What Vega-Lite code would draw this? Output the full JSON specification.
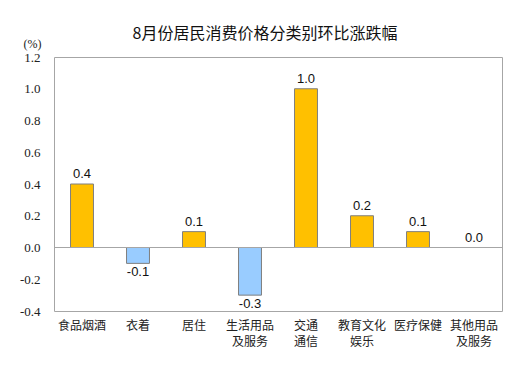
{
  "$schema": "https://vega.github.io/schema/vega-lite/v6.json",
  "autosize": "none",
  "width": 448,
  "height": 254,
  "padding": {"left": 54, "top": 57, "right": 22, "bottom": 68},
  "background": "white",
  "title": {
    "text": "8月份居民消费价格分类别环比涨跌幅",
    "font": "Noto Sans CJK SC",
    "fontSize": 16,
    "fontWeight": "normal",
    "color": "#111111",
    "anchor": "middle",
    "frame": "group",
    "baseline": "bottom",
    "offset": -21,
    "dx": -13
  },
  "config": {
    "locale": {
      "number": {"decimal": ".", "thousands": ",", "grouping": [3], "currency": ["", ""], "minus": "-"}
    },
    "view": {"stroke": "#A6A6A6", "strokeWidth": 1}
  },
  "data": {
    "values": [
      {"category": "食品烟酒", "value": 0.4},
      {"category": "衣着", "value": -0.1},
      {"category": "居住", "value": 0.1},
      {"category": "生活用品\n及服务", "value": -0.3},
      {"category": "交通\n通信", "value": 1.0},
      {"category": "教育文化\n娱乐", "value": 0.2},
      {"category": "医疗保健", "value": 0.1},
      {"category": "其他用品\n及服务", "value": 0.0}
    ]
  },
  "encoding": {
    "x": {
      "field": "category",
      "type": "nominal",
      "sort": null,
      "scale": {"paddingInner": 0.59, "paddingOuter": 0.295},
      "axis": {
        "title": null,
        "labelAngle": 0,
        "labelExpr": "split(datum.label, '\\n')",
        "labelFont": "Noto Sans CJK SC",
        "labelFontSize": 12,
        "labelColor": "#222222",
        "labelLineHeight": 16,
        "labelPadding": 9,
        "ticks": false,
        "domain": false
      }
    },
    "y": {
      "field": "value",
      "type": "quantitative",
      "scale": {"domain": [-0.4, 1.2], "nice": false, "zero": false},
      "axis": {
        "title": "(%)",
        "titleAngle": 0,
        "titleX": -22,
        "titleY": -14,
        "titleAlign": "center",
        "titleBaseline": "middle",
        "titleFont": "Liberation Serif",
        "titleFontSize": 12,
        "titleFontWeight": "normal",
        "titleColor": "#222222",
        "values": [-0.4, -0.2, 0, 0.2, 0.4, 0.6, 0.8, 1.0, 1.2],
        "format": ".1f",
        "labelFont": "Liberation Serif",
        "labelFontSize": 13,
        "labelColor": "#222222",
        "labelPadding": 14,
        "grid": false,
        "domain": false,
        "ticks": false
      }
    }
  },
  "layer": [
    {
      "mark": {"type": "bar", "stroke": "#7F7F7F", "strokeWidth": 1},
      "encoding": {
        "color": {
          "condition": {"test": "datum.value < 0", "value": "#99CCFF"},
          "value": "#FFC000"
        }
      }
    },
    {
      "mark": {"type": "rule", "color": "#A6A6A6", "strokeWidth": 1},
      "encoding": {"y": {"datum": 0}, "x": null}
    },
    {
      "transform": [{"filter": "datum.value >= 0"}],
      "mark": {"type": "text", "baseline": "bottom", "dy": -3, "font": "Liberation Sans", "fontSize": 13, "color": "#111111"},
      "encoding": {"text": {"field": "value", "type": "quantitative", "format": ".1f"}}
    },
    {
      "transform": [{"filter": "datum.value < 0"}],
      "mark": {"type": "text", "baseline": "top", "dy": 3, "font": "Liberation Sans", "fontSize": 13, "color": "#111111"},
      "encoding": {"text": {"field": "value", "type": "quantitative", "format": ".1f"}}
    }
  ]
}
